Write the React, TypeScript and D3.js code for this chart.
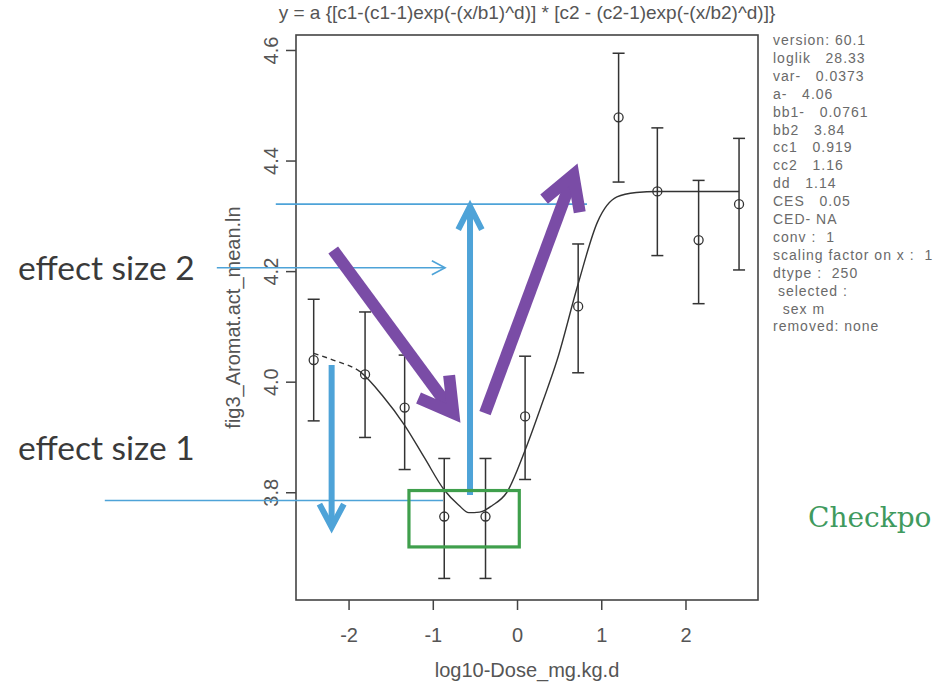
import React, { useRef, useEffect } from "react";
import * as d3 from "d3";

// observed dose groups (log10 dose), group means and error bar ends
const logDose = [-2.42, -1.81, -1.34, -0.87, -0.38, 0.09, 0.72, 1.2, 1.66, 2.15, 2.63];
const meanLn = [4.04, 4.014, 3.954, 3.757, 3.757, 3.938, 4.137, 4.479, 4.345, 4.257, 4.322];
const upperLn = [4.15, 4.127, 4.049, 3.862, 3.862, 4.047, 4.25, 4.595, 4.46, 4.365, 4.441];
const lowerLn = [3.93, 3.9, 3.842, 3.645, 3.645, 3.824, 4.017, 4.362, 4.229, 4.142, 4.203];

// fitted curve
const fitX = [-2.42, -2.15, -1.87, -1.6, -1.34, -1.1, -0.87, -0.7, -0.58, -0.45, -0.3, -0.13, 0.09, 0.3, 0.47, 0.72, 0.95, 1.18, 1.41, 1.66, 2.15, 2.63];
const fitY = [4.052, 4.038, 4.019, 3.975, 3.922, 3.862, 3.805, 3.778, 3.764, 3.765, 3.777, 3.8, 3.877, 3.965, 4.04, 4.178, 4.29, 4.335, 4.343, 4.345, 4.345, 4.345];
const dashedUntil = -1.87;

const xTicks = [-2, -1, 0, 1, 2];
const yTicks = [3.8, 4.0, 4.2, 4.4, 4.6];

const title = "y = a {[c1-(c1-1)exp(-(x/b1)^d)] * [c2 - (c2-1)exp(-(x/b2)^d)]}";
const xLabel = "log10-Dose_mg.kg.d";
const yLabel = "fig3_Aromat.act_mean.ln";
const fitInfo = [
  "version: 60.1",
  "loglik   28.33",
  "var-   0.0373",
  "a-   4.06",
  "bb1-   0.0761",
  "bb2   3.84",
  "cc1   0.919",
  "cc2   1.16",
  "dd   1.14",
  "CES   0.05",
  "CED- NA",
  "conv :  1",
  "scaling factor on x :  1",
  "dtype :  250",
  " selected :",
  "  sex m",
  "removed: none",
];

export default function App() {
  const ref = useRef<SVGSVGElement>(null);

  useEffect(() => {
    document.body.style.margin = "0";
    const svg = d3.select(ref.current);
    svg.selectAll("*").remove();

    const width = 935;
    const height = 683;
    const box = { left: 296, right: 758, top: 35, bottom: 600 };

    const x = d3.scaleLinear().domain([-2.63, 2.855]).range([box.left, box.right]);
    const y = d3.scaleLinear().domain([3.606, 4.628]).range([box.bottom, box.top]);

    svg.append("rect").attr("width", width).attr("height", height).attr("fill", "#fff");

    const axisCol = "#444";
    const textCol = "#555";
    const rfont = "'Liberation Sans', Arial, sans-serif";

    // frame
    svg
      .append("rect")
      .attr("x", box.left)
      .attr("y", box.top)
      .attr("width", box.right - box.left)
      .attr("height", box.bottom - box.top)
      .attr("fill", "none")
      .attr("stroke", axisCol)
      .attr("stroke-width", 1.6);

    // x axis
    const xa = svg.append("g");
    xa.selectAll("line")
      .data(xTicks)
      .join("line")
      .attr("x1", (d) => x(d))
      .attr("x2", (d) => x(d))
      .attr("y1", box.bottom)
      .attr("y2", box.bottom + 10)
      .attr("stroke", axisCol)
      .attr("stroke-width", 1.5);
    xa.selectAll("text")
      .data(xTicks)
      .join("text")
      .attr("x", (d) => x(d))
      .attr("y", 642)
      .attr("text-anchor", "middle")
      .attr("font-family", rfont)
      .attr("font-size", 20)
      .attr("fill", textCol)
      .text((d) => d3.format("d")(d).replace("−", "-"));
    svg
      .append("text")
      .attr("x", (box.left + box.right) / 2)
      .attr("y", 677)
      .attr("text-anchor", "middle")
      .attr("font-family", rfont)
      .attr("font-size", 20)
      .attr("fill", textCol)
      .text(xLabel);

    // y axis
    const ya = svg.append("g");
    ya.selectAll("line")
      .data(yTicks)
      .join("line")
      .attr("x1", box.left - 10)
      .attr("x2", box.left)
      .attr("y1", (d) => y(d))
      .attr("y2", (d) => y(d))
      .attr("stroke", axisCol)
      .attr("stroke-width", 1.5);
    ya.selectAll("text")
      .data(yTicks)
      .join("text")
      .attr("transform", (d) => `translate(278,${y(d)}) rotate(-90)`)
      .attr("text-anchor", "middle")
      .attr("font-family", rfont)
      .attr("font-size", 20)
      .attr("fill", textCol)
      .text((d) => d3.format(".1f")(d));
    svg
      .append("text")
      .attr("transform", `translate(240,${(box.top + box.bottom) / 2}) rotate(-90)`)
      .attr("text-anchor", "middle")
      .attr("font-family", rfont)
      .attr("font-size", 20)
      .attr("fill", textCol)
      .text(yLabel);

    // title
    svg
      .append("text")
      .attr("x", (box.left + box.right) / 2)
      .attr("y", 19)
      .attr("text-anchor", "middle")
      .attr("font-family", rfont)
      .attr("font-size", 19)
      .attr("fill", textCol)
      .text(title);

    // fit info panel
    svg
      .append("g")
      .selectAll("text")
      .data(fitInfo)
      .join("text")
      .attr("x", 773)
      .attr("y", (d, i) => 45 + i * 17.9)
      .attr("font-family", rfont)
      .attr("font-size", 14)
      .attr("letter-spacing", 1)
      .attr("fill", "#6a6a6a")
      .style("white-space", "pre")
      .text((d) => d);

    // fitted curve: dashed before the first dose group, solid after
    const defs = svg.append("defs");
    defs
      .append("clipPath")
      .attr("id", "clipDash")
      .append("rect")
      .attr("x", box.left)
      .attr("y", box.top)
      .attr("width", x(dashedUntil) - box.left)
      .attr("height", box.bottom - box.top);
    defs
      .append("clipPath")
      .attr("id", "clipSolid")
      .append("rect")
      .attr("x", x(dashedUntil))
      .attr("y", box.top)
      .attr("width", box.right - x(dashedUntil))
      .attr("height", box.bottom - box.top);

    const fit = fitX.map((v, i) => [v, fitY[i]] as [number, number]);
    const line = d3
      .line<[number, number]>()
      .x((d) => x(d[0]))
      .y((d) => y(d[1]))
      .curve(d3.curveMonotoneX);
    svg
      .append("path")
      .datum(fit)
      .attr("clip-path", "url(#clipDash)")
      .attr("fill", "none")
      .attr("stroke", "#333")
      .attr("stroke-width", 1.4)
      .attr("stroke-dasharray", "5,4")
      .attr("d", line);
    svg
      .append("path")
      .datum(fit)
      .attr("clip-path", "url(#clipSolid)")
      .attr("fill", "none")
      .attr("stroke", "#333")
      .attr("stroke-width", 1.4)
      .attr("d", line);

    // error bars and points
    const pts = logDose.map((d, i) => ({ x: d, m: meanLn[i], lo: lowerLn[i], hi: upperLn[i] }));
    const eb = svg.append("g").attr("stroke", "#333").attr("stroke-width", 1.5).attr("fill", "none");
    eb.selectAll(".v")
      .data(pts)
      .join("line")
      .attr("x1", (d) => x(d.x))
      .attr("x2", (d) => x(d.x))
      .attr("y1", (d) => y(d.lo))
      .attr("y2", (d) => y(d.hi));
    for (const k of ["lo", "hi"] as const) {
      eb.selectAll(`.c${k}`)
        .data(pts)
        .join("line")
        .attr("x1", (d) => x(d.x) - 6)
        .attr("x2", (d) => x(d.x) + 6)
        .attr("y1", (d) => y(d[k]))
        .attr("y2", (d) => y(d[k]));
    }
    eb.selectAll("circle")
      .data(pts)
      .join("circle")
      .attr("cx", (d) => x(d.x))
      .attr("cy", (d) => y(d.m))
      .attr("r", 4.5)
      .attr("stroke-width", 1.3);

    // ---- annotations drawn over the plot ----
    const blue = "#4ea3d8";
    const purple = "#7a4ca6";
    const green = "#3f9f4c";

    const arrow = (
      x0: number, y0: number, x1: number, y1: number,
      color: string, w: number, head: number, ang: number
    ) => {
      const px0 = x(x0), py0 = y(y0), px1 = x(x1), py1 = y(y1);
      const th = Math.atan2(py0 - py1, px0 - px1);
      const a = (ang * Math.PI) / 180;
      const g = svg.append("g").attr("stroke", color).attr("fill", "none").attr("stroke-width", w);
      g.append("line").attr("x1", px0).attr("y1", py0).attr("x2", px1).attr("y2", py1);
      const h = d3.path();
      h.moveTo(px1 + head * Math.cos(th + a), py1 + head * Math.sin(th + a));
      h.lineTo(px1, py1);
      h.lineTo(px1 + head * Math.cos(th - a), py1 + head * Math.sin(th - a));
      g.append("path").attr("d", h.toString()).attr("stroke-linejoin", "miter");
    };

    const hline = (yv: number, xa0: number, xa1: number) =>
      svg.append("line")
        .attr("x1", x(xa0)).attr("x2", x(xa1))
        .attr("y1", y(yv)).attr("y2", y(yv))
        .attr("stroke", blue).attr("stroke-width", 1.6);

    hline(4.322, -2.87, 0.825);
    hline(3.786, -4.9, -0.885);
    arrow(-3.57, 4.207, -0.86, 4.207, blue, 1.6, 15, 28);

    arrow(-0.564, 3.796, -0.564, 4.318, blue, 6, 26, 27);
    arrow(-2.207, 4.031, -2.207, 3.738, blue, 6, 26, 28);

    arrow(-2.188, 4.239, -0.762, 3.944, purple, 12, 38, 30);
    arrow(-0.386, 3.944, 0.663, 4.375, purple, 12, 38, 30);

    svg
      .append("rect")
      .attr("x", x(-1.289))
      .attr("y", y(3.804))
      .attr("width", x(0.021) - x(-1.289))
      .attr("height", y(3.702) - y(3.804))
      .attr("fill", "none")
      .attr("stroke", green)
      .attr("stroke-width", 3.2);

    const labelFont = "Lato, 'Open Sans', sans-serif";
    svg.append("text").attr("x", 18).attr("y", 280)
      .attr("font-family", labelFont).attr("font-size", 33.5).attr("fill", "#3a3a3a")
      .text("effect size 2");
    svg.append("text").attr("x", 18).attr("y", 460)
      .attr("font-family", labelFont).attr("font-size", 33.5).attr("fill", "#3a3a3a")
      .text("effect size 1");

    svg.append("text").attr("x", 808).attr("y", 527)
      .attr("font-family", "'DejaVu Serif', serif").attr("font-size", 28).attr("fill", "#3f9a5e")
      .text("Checkpo");
  }, []);

  return <svg ref={ref} width={935} height={683} style={{ display: "block" }}></svg>;
}
